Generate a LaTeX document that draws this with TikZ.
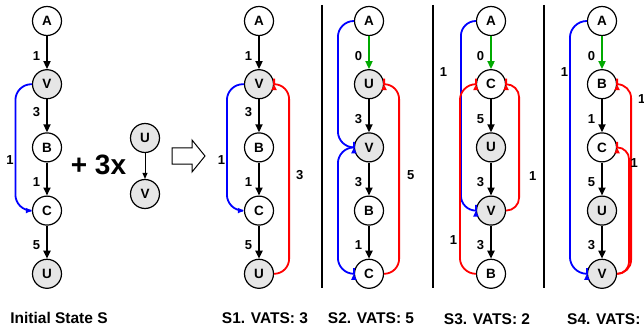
\documentclass[tikz,border=0pt]{standalone}
\usepackage{fontspec}
\setmainfont{Liberation Sans}
\usetikzlibrary{arrows.meta}
\definecolor{nodegray}{RGB}{230,230,230}
\definecolor{vgreen}{RGB}{0,170,0}
\begin{document}
\begin{tikzpicture}[x=1pt,y=-1pt,
  nd/.style={circle,draw,line width=1.2pt,minimum size=29pt,inner sep=0pt,font=\fontsize{13.5}{14}\selectfont\bfseries},
  fA/.style={fill=white}, fB/.style={fill=white}, fC/.style={fill=white},
  fU/.style={fill=nodegray}, fV/.style={fill=nodegray},
  blk/.style={line width=1.8pt,-{Triangle[length=8pt,width=7pt]}},
  cv/.style={line width=1.8pt,rounded corners=#1,-{Triangle[length=6pt,width=5pt]}},
  lbl/.style={font=\fontsize{13}{14}\selectfont\bfseries,inner sep=1pt,text=black},
  captxt/.style={font=\fontsize{15.5}{16}\selectfont\bfseries}]
\useasboundingbox (0,0) rectangle (644,331);
% the five states, top to bottom
\foreach \col/\x/\lst in {i/47/{A,V,B,C,U}, a/259/{A,V,B,C,U}, b/369/{A,U,V,B,C}, c/491/{A,C,U,V,B}, d/602/{A,B,C,U,V}}
  \foreach \n [count=\k from 0] in \lst
    \node[nd,f\n] (\col\n) at (\x,21+63.2*\k) {\n};
\foreach \col/\from/\dest/\wt/\ps in {i/A/V/1/.6, i/V/B/3/.4, i/B/C/1/.6, i/C/U/5/.6,
    a/A/V/1/.6, a/V/B/3/.4, a/B/C/1/.6, a/C/U/5/.6, b/U/V/3/.6, b/V/B/3/.6, b/B/C/1/.6,
    c/C/U/5/.6, c/U/V/3/.6, c/V/B/3/.6, d/B/C/1/.6, d/C/U/5/.6, d/U/V/3/.6}
  \draw[blk] (\col\from) -- node[lbl,left=5pt,pos=\ps]{\wt} (\col\dest);
\foreach \col/\dest in {b/U, c/C, d/B}
  \draw[blk,vgreen] (\col A) -- node[lbl,left=5pt,pos=.6]{0} (\col\dest);
% back edges
\draw[cv=16pt,blue] (iV.west) -- ++(-16.5,0) |- node[lbl,left,pos=.3]{1} (iC.west);
\draw[cv=16pt,blue] (aV.west) -- ++(-17,0) |- node[lbl,left,pos=.3]{1} (aC.west);
\draw[cv=15pt,red] (aU.east) -- ++(15,0) |- node[lbl,right=5pt,pos=.26]{3} (aV.east);
\draw[cv=16pt,blue] (bA.west) -- ++(-16,0) |- (bV.west);
\draw[cv=16pt,blue] (bV.west) -- ++(-16,0) |- (bC.west);
\draw[cv=15pt,red] (bC.east) -- ++(15,0) |- node[lbl,right=6pt,pos=.26]{5} (bU.east);
\draw[cv=15pt,blue] (cA.west) -- ++(-15,0) |- node[lbl,left=12pt,pos=.135]{1} (cV.west);
\draw[cv=16pt,red] (cB.west) -- ++(-16,0) |- node[lbl,left=1pt,pos=.09]{1} (cC.west);
\draw[cv=13pt,red] (cV.east) -- ++(13,0) |- node[lbl,right=8pt,pos=.137]{1} (cC.east);
\draw[cv=17pt,blue] (dA.west) -- ++(-17,0) |- node[lbl,left=0pt,pos=.1]{1} (dV.west);
\draw[cv=14pt,red] (dV.east) -- ++(14,0) |- node[lbl,right=5pt,pos=.46]{1} (dB.east);
\draw[cv=12pt,red] (dV.east) -- ++(12,0) |- node[lbl,right=-.5pt,pos=.44]{1} (dC.east);
% separators
\foreach \x in {322,433,544} \draw[line width=1.8pt] (\x,5) -- (\x,288);
% the added pair
\node[font=\fontsize{28}{30}\selectfont\bfseries] (plus) at (98.5,165) {+ 3x};
\node[nd,fU] (mU) at (145,138) {U};
\node[nd,fV] (mV) at (145,194) {V};
\draw[line width=1pt,-{Triangle[length=6pt,width=5pt]}] (mU) -- (mV);
\draw[line width=1pt] (172,148) -- ++(20,0) -- ++(0,-8) -- (205,156) -- (192,172) -- ++(0,-8) -- (172,164) -- cycle;
% captions
\node[captxt] (capS) at (59,317.5) {Initial State S};
\node[captxt] (cap1) at (265,318) {S1. VATS: 3};
\node[captxt] (cap2) at (371,318) {S2. VATS: 5};
\node[captxt] (cap3) at (487,319) {S3. VATS: 2};
\node[captxt,anchor=west,inner xsep=0pt] (cap4) at (567,319) {S4. VATS: 1};
\end{tikzpicture}
\end{document}
